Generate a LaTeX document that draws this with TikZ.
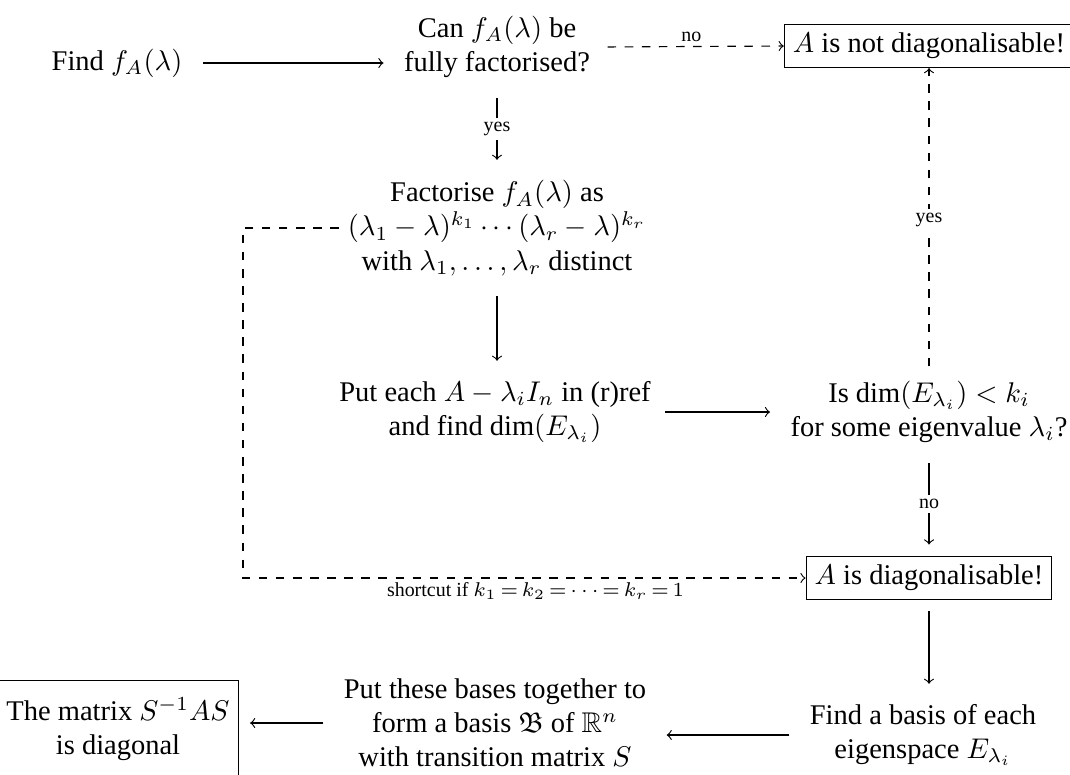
\documentclass[tikz,border=0pt]{standalone}
\usepackage{amsmath,amssymb}
\usepackage{fontspec}
\setmainfont{Liberation Serif}
\usetikzlibrary{calc}
\tikzset{
  txt/.style={align=center, inner sep=3pt},
  box/.style={txt, draw, line width=0.4pt},
  flow/.style={->, line width=0.4pt, shorten <=4pt, shorten >=4pt},
  aux/.style={->, dashed, line width=0.4pt},
  labs/.style={font=\scriptsize, inner sep=1.5pt},
  cut/.style={labs, fill=white}
}
\begin{document}
\begin{tikzpicture}[x=0.351pt, y=-0.351pt]
  \useasboundingbox (0,0) rectangle (1070,774);
  % top row
  \node[txt] (find) at (117,63) {Find $f_A(\lambda)$};
  \node[txt] (canfac) at (497,47) {Can $f_A(\lambda)$ be\\fully factorised?};
  \node[box] (notdiag) at (929,46) {$A$ is not diagonalisable!};
  % middle
  \node[txt] (factor) at (497,228) {Factorise $f_A(\lambda)$ as\\$(\lambda_1-\lambda)^{k_1}\cdots(\lambda_r-\lambda)^{k_r}$\\with $\lambda_1,\dots,\lambda_r$ distinct};
  \node[txt] (putref) at (495,412) {Put each $A-\lambda_iI_n$ in (r)ref\\and find $\dim(E_{\lambda_i})$};
  \node[txt] (isdim) at (929,412) {Is $\dim(E_{\lambda_i})<k_i$\\for some eigenvalue $\lambda_i$?};
  \node[box] (diag) at (929,578) {$A$ is diagonalisable!};
  % bottom row
  \node[txt] (findbasis) at (923,735) {Find a basis of each\\eigenspace $E_{\lambda_i}$};
  \node[txt] (together) at (495,723) {Put these bases together to\\form a basis $\mathfrak{B}$ of $\mathbb{R}^n$\\with transition matrix $S$};
  \node[box, inner ysep=6pt] (result) at (118,729) {The matrix $S^{-1}AS$\\is diagonal};
  \coordinate (bend) at (243,228);

  \draw[flow] (find.east) -- (find.east -| canfac.west);
  \draw[aux, shorten <=3pt] (canfac.east) -- node[labs, above] {no} (notdiag.west);
  \draw[flow] (canfac.south) -- node[cut] {yes} (factor.north);
  \draw[flow] (factor.south) -- (factor.south |- putref.north);
  \draw[flow, shorten <=2pt] (putref.east) -- (putref.east -| isdim.west);
  \draw[flow] (isdim.south) -- node[cut] {no} (isdim.south |- diag.north);
  \draw[aux, shorten <=2pt] (isdim.north) -- node[cut] {yes} (isdim.north |- notdiag.south);
  \draw[aux] (bend -| factor.west) -- (bend) |- node[labs, below, pos=0.76]
    {\thickmuskip=3mu\medmuskip=2mu shortcut if $k_1=k_2=\cdots=k_r=1$} (diag.west);
  \draw[flow] (diag.south) -- (diag.south |- findbasis.north);
  \draw[flow] (findbasis.west) -- (findbasis.west -| together.east);
  \draw[flow] (together.west) -- (together.west -| result.east);
\end{tikzpicture}
\end{document}
